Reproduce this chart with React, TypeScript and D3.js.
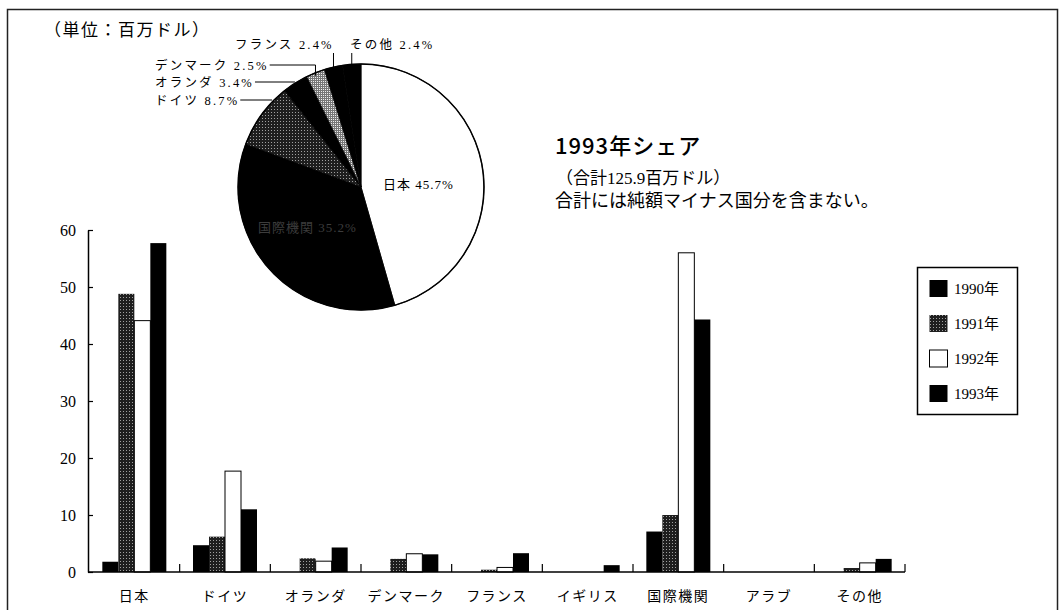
import { useEffect, useRef } from "react";
import * as d3 from "d3";

// 二国間・多国間援助 (単位：百万ドル)
const categories = ["日本", "ドイツ", "オランダ", "デンマーク", "フランス", "イギリス", "国際機関", "アラブ", "その他"];
const years = ["1990年", "1991年", "1992年", "1993年"];
const values1990 = [1.8, 4.7, 0, 0, 0, 0, 7.1, 0, 0];
const values1991 = [48.8, 6.2, 2.4, 2.3, 0.4, 0, 10.0, 0, 0.7];
const values1992 = [44.1, 17.7, 1.9, 3.2, 0.8, 0, 56.0, 0, 1.6];
const values1993 = [57.7, 11.0, 4.3, 3.1, 3.3, 1.2, 44.3, 0, 2.3];
const yTicks = [0, 10, 20, 30, 40, 50, 60];

// 1993年シェア
const shareNames = ["日本", "国際機関", "ドイツ", "オランダ", "デンマーク", "フランス", "その他"];
const shareValues = [45.7, 35.2, 8.7, 3.4, 2.5, 2.4, 2.4];

const JP = "'Noto Sans CJK JP', sans-serif";
const SERIF = "'Liberation Serif', 'Noto Sans CJK JP', serif";

const App = () => {
  const svgRef = useRef<SVGSVGElement>(null);

  useEffect(() => {
    const svg = d3.select(svgRef.current);
    svg.selectAll("*").remove();

    const defs = svg.append("defs");
    // dark halftone (1991)
    const dots = defs.append("pattern")
      .attr("id", "dots").attr("width", 3).attr("height", 3)
      .attr("patternUnits", "userSpaceOnUse");
    dots.append("rect").attr("width", 3).attr("height", 3).attr("fill", "#1e1e1e");
    dots.append("rect").attr("width", 1).attr("height", 1).attr("fill", "#a0a0a0");
    // light halftone
    const light = defs.append("pattern")
      .attr("id", "light").attr("width", 2).attr("height", 2)
      .attr("patternUnits", "userSpaceOnUse");
    light.append("rect").attr("width", 2).attr("height", 2).attr("fill", "#777");
    light.append("rect").attr("width", 1).attr("height", 1).attr("fill", "#eee");

    // frame
    svg.append("rect")
      .attr("x", 7.5).attr("y", 9.5).attr("width", 1050).attr("height", 640)
      .attr("fill", "none").attr("stroke", "#222").attr("stroke-width", 1.5);

    svg.append("text")
      .attr("x", 44).attr("y", 36)
      .attr("font-family", JP).attr("font-size", 17).attr("letter-spacing", 1.5)
      .text("（単位：百万ドル）");

    // ---- bar chart ----
    const series = [values1990, values1991, values1992, values1993];
    const fills = ["#000", "url(#dots)", "#fff", "#000"];

    const x = d3.scaleBand().domain(categories).range([89, 905]).padding(0);
    const groupW = 64;
    const x1 = d3.scaleBand().domain(years).range([0, groupW]).padding(0);
    const y = d3.scaleLinear().domain([0, 60]).range([572, 230]);

    const yAxis = svg.append("g")
      .attr("transform", "translate(88,0)")
      .call(d3.axisLeft(y).tickValues(yTicks).tickSize(-5).tickSizeOuter(0).tickPadding(12));
    yAxis.select(".domain").attr("stroke", "#000").attr("stroke-width", 1.5);
    yAxis.selectAll(".tick line").attr("stroke-width", 1.2);
    yAxis.selectAll("text")
      .style("font-family", SERIF).style("font-size", "16px").attr("fill", "#000");

    const bars = svg.append("g");
    series.forEach((vals, si) => {
      bars.append("g")
        .selectAll("rect")
        .data(vals.map((v, i) => ({ v, c: categories[i] })).filter(d => d.v > 0))
        .join("rect")
        .attr("x", d => (x(d.c) as number) + (x.bandwidth() - groupW) / 2 + (x1(years[si]) as number))
        .attr("y", d => y(d.v))
        .attr("width", x1.bandwidth())
        .attr("height", d => y(0) - y(d.v))
        .attr("fill", fills[si])
        .attr("stroke", si === 2 ? "#000" : "none")
        .attr("stroke-width", 1);
    });

    // x axis
    svg.append("line")
      .attr("x1", 88).attr("x2", 905).attr("y1", y(0)).attr("y2", y(0))
      .attr("stroke", "#000").attr("stroke-width", 1.5);
    svg.append("g")
      .selectAll("line")
      .data(categories)
      .join("line")
      .attr("x1", d => (x(d) as number) + x.bandwidth())
      .attr("x2", d => (x(d) as number) + x.bandwidth())
      .attr("y1", y(0)).attr("y2", y(0) - 8)
      .attr("stroke", "#000").attr("stroke-width", 1.2);
    svg.append("g")
      .selectAll("text")
      .data(categories)
      .join("text")
      .attr("x", d => (x(d) as number) + x.bandwidth() / 2)
      .attr("y", 601)
      .attr("text-anchor", "middle")
      .attr("font-family", JP).attr("font-size", 14).attr("letter-spacing", 1.5)
      .text(d => d);

    // legend
    const lg = svg.append("g");
    lg.append("rect")
      .attr("x", 917.5).attr("y", 267.5).attr("width", 100).attr("height", 147)
      .attr("fill", "#fff").attr("stroke", "#000").attr("stroke-width", 1.5);
    const ly = d3.scalePoint().domain(years).range([288.5, 393.5]);
    lg.selectAll("rect.sw")
      .data(years)
      .join("rect")
      .attr("class", "sw")
      .attr("x", 929.5).attr("y", d => (ly(d) as number) - 8.5)
      .attr("width", 18).attr("height", 17)
      .attr("fill", (d, i) => fills[i])
      .attr("stroke", (d, i) => (i === 2 ? "#000" : "none"));
    lg.selectAll("text")
      .data(years)
      .join("text")
      .attr("x", 954).attr("y", d => (ly(d) as number) + 5.5)
      .attr("font-family", SERIF).attr("font-size", 15)
      .text(d => d);

    // ---- pie ----
    const cx = 361, cy = 187, r = 123;
    const pie = d3.pie<number>().sort(null).value(d => d);
    const arcs = pie(shareValues);
    const arc = d3.arc<d3.PieArcDatum<number>>().innerRadius(0).outerRadius(r);
    const sliceFills = ["#fff", "#000", "url(#dots)", "#000", "url(#light)", "#000", "#000"];
    const pg = svg.append("g").attr("transform", `translate(${cx},${cy})`);
    pg.selectAll("path")
      .data(arcs)
      .join("path")
      .attr("d", arc)
      .attr("fill", (d, i) => sliceFills[i])
      .attr("stroke", "#000").attr("stroke-width", 0.8);
    pg.append("circle").attr("r", r).attr("fill", "none").attr("stroke", "#000").attr("stroke-width", 1.5);

    const pct = (i: number) => `${shareValues[i].toFixed(1)}%`;
    pg.append("text")
      .attr("x", 22).attr("y", 2)
      .attr("font-family", SERIF).attr("font-size", 13).attr("letter-spacing", 1)
      .text(`${shareNames[0]} ${pct(0)}`);
    pg.append("text")
      .attr("x", -103).attr("y", 45)
      .attr("font-family", SERIF).attr("font-size", 13).attr("letter-spacing", 1)
      .attr("fill", "#3c3c3c")
      .text(`${shareNames[1]} ${pct(1)}`);

    // callouts for small slices
    const mid = (i: number) => {
      const a = (arcs[i].startAngle + arcs[i].endAngle) / 2;
      return [cx + r * Math.sin(a), cy - r * Math.cos(a)];
    };
    const edgeAtY = (yy: number) => cx - Math.sqrt(r * r - (yy - cy) * (yy - cy));
    const callouts = [
      { i: 2, tx: 155, ty: 100, kind: "h" },
      { i: 3, tx: 155, ty: 82, kind: "h" },
      { i: 4, tx: 155, ty: 65, kind: "elbow" },
      { i: 5, tx: 235, ty: 44, kind: "v" },
      { i: 6, tx: 350, ty: 44, kind: "v" },
    ];
    const cg = svg.append("g");
    callouts.forEach(c => {
      const t = cg.append("text")
        .attr("x", c.tx).attr("y", c.ty + 4.5)
        .attr("font-family", SERIF).attr("font-size", 12.5).attr("letter-spacing", 2.2)
        .text(`${shareNames[c.i]} ${pct(c.i)}`);
      const w = (t.node() as SVGTextElement).getComputedTextLength();
      const [mx, my] = mid(c.i);
      let pts: [number, number][] = [];
      if (c.kind === "h") pts = [[c.tx + w + 1, c.ty], [edgeAtY(c.ty) - 2, c.ty]];
      if (c.kind === "elbow") pts = [[c.tx + w + 1, c.ty], [mx, c.ty], [mx, my + 3]];
      if (c.kind === "v") pts = [[mx, c.ty + 9], [mx, my + 2]];
      cg.append("path")
        .attr("d", d3.line()(pts))
        .attr("fill", "none").attr("stroke", "#000").attr("stroke-width", 1);
    });

    // title block
    svg.append("text")
      .attr("x", 555).attr("y", 154)
      .attr("font-family", JP).attr("font-size", 22).attr("font-weight", 500).attr("letter-spacing", 1)
      .text("1993年シェア");
    svg.append("text")
      .attr("x", 556).attr("y", 184)
      .attr("font-family", SERIF).attr("font-size", 17)
      .text("（合計125.9百万ドル）");
    svg.append("text")
      .attr("x", 555).attr("y", 207)
      .attr("font-family", JP).attr("font-size", 18)
      .text("合計には純額マイナス国分を含まない。");

    return () => {
      svg.selectAll("*").remove();
    };
  }, []);

  return (
    <svg
      ref={svgRef}
      width={1062}
      height={610}
      style={{ position: "absolute", left: 0, top: 0, background: "#fff" }}
    />
  );
};

export default App;
